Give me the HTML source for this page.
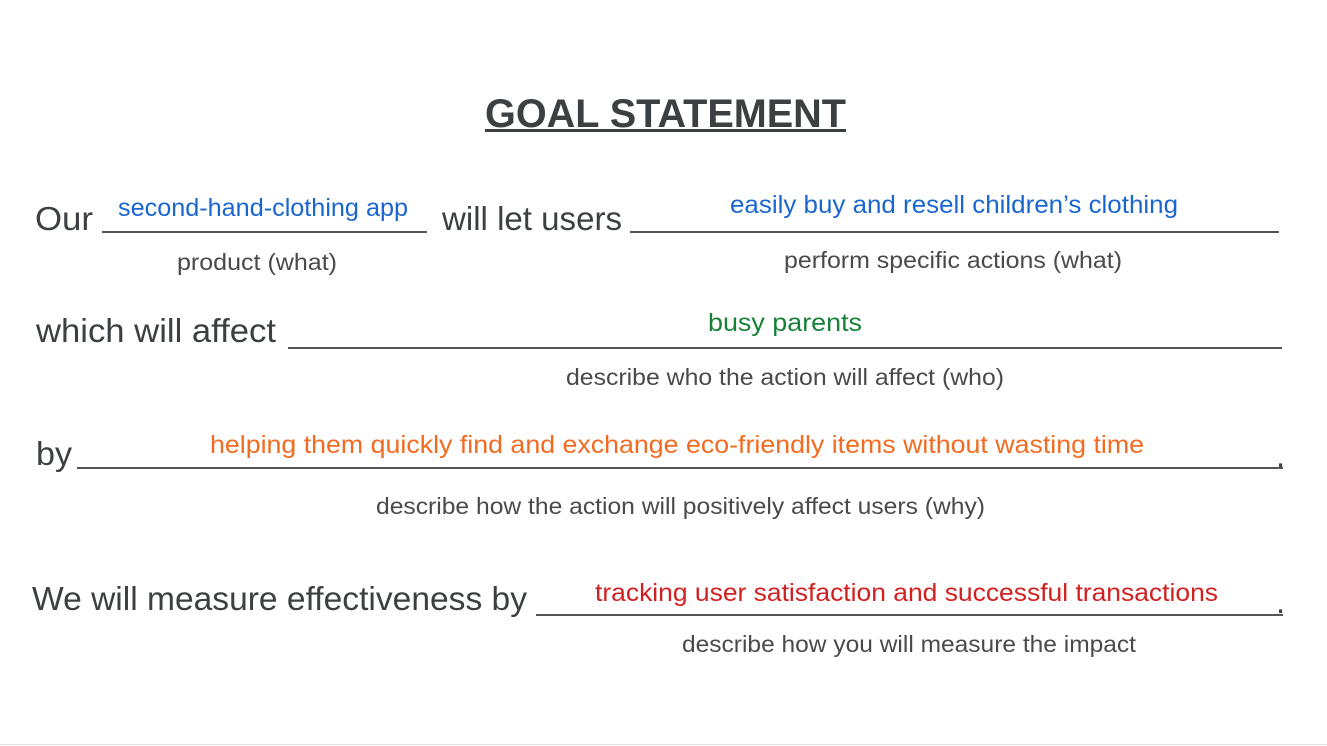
<!DOCTYPE html>
<html><head><meta charset="utf-8"><style>
html,body{margin:0;padding:0;background:#fff;}
svg{display:block}
text{font-family:"Liberation Sans",Arial,sans-serif;}
</style></head><body>
<svg width="1327" height="746" viewBox="0 0 1327 746" xmlns="http://www.w3.org/2000/svg">
<rect width="1327" height="746" fill="#fff"/>
<line x1="0" y1="744.5" x2="1327" y2="744.5" stroke="#e0e0e0" stroke-width="1"/>
<text x="485" y="127" font-size="40" font-weight="bold" fill="#3c4043" textLength="361" lengthAdjust="spacingAndGlyphs">GOAL STATEMENT</text>
<rect x="485" y="129" width="361" height="3" fill="#3c4043"/>

<g fill="#3c4043" font-size="33">
<text x="35" y="230" textLength="58" lengthAdjust="spacingAndGlyphs">Our</text>
<text x="442" y="230" textLength="180" lengthAdjust="spacingAndGlyphs">will let users</text>
<text x="36" y="342" textLength="240" lengthAdjust="spacingAndGlyphs">which will affect</text>
<text x="36" y="465" textLength="36" lengthAdjust="spacingAndGlyphs">by</text>
<text x="32" y="610" textLength="495" lengthAdjust="spacingAndGlyphs">We will measure effectiveness by</text>
<text x="1276" y="467">.</text>
<text x="1276" y="613">.</text>
</g>

<g stroke="#555" stroke-width="2">
<line x1="102" y1="232" x2="427" y2="232"/>
<line x1="630" y1="232" x2="1279" y2="232"/>
<line x1="288" y1="348" x2="1282" y2="348"/>
<line x1="77" y1="468" x2="1283" y2="468"/>
<line x1="536" y1="615" x2="1283" y2="615"/>
</g>

<g font-size="25">
<text x="118" y="216" fill="#1a66d0" textLength="290" lengthAdjust="spacingAndGlyphs">second-hand-clothing app</text>
<text x="730" y="213" fill="#1a66d0" textLength="448" lengthAdjust="spacingAndGlyphs">easily buy and resell children’s clothing</text>
<text x="708" y="331" fill="#188038" textLength="154" lengthAdjust="spacingAndGlyphs">busy parents</text>
<text x="210" y="453" fill="#f26b21" textLength="934" lengthAdjust="spacingAndGlyphs">helping them quickly find and exchange eco-friendly items without wasting time</text>
<text x="595" y="601" fill="#d21f1f" textLength="623" lengthAdjust="spacingAndGlyphs">tracking user satisfaction and successful transactions</text>
</g>

<g font-size="23" fill="#4a4a4a">
<text x="177" y="270" textLength="160" lengthAdjust="spacingAndGlyphs">product (what)</text>
<text x="784" y="268" textLength="338" lengthAdjust="spacingAndGlyphs">perform specific actions (what)</text>
<text x="566" y="385" textLength="438" lengthAdjust="spacingAndGlyphs">describe who the action will affect (who)</text>
<text x="376" y="514" textLength="609" lengthAdjust="spacingAndGlyphs">describe how the action will positively affect users (why)</text>
<text x="682" y="652" textLength="454" lengthAdjust="spacingAndGlyphs">describe how you will measure the impact</text>
</g>
</svg>
</body></html>
